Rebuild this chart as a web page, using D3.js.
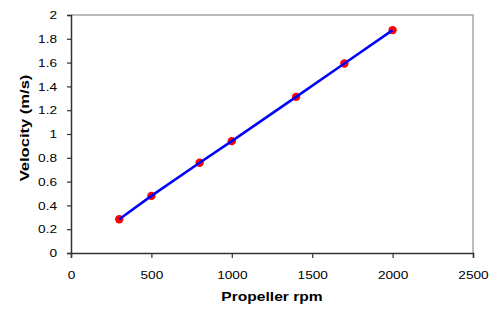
<!DOCTYPE html>
<html>
<head>
<meta charset="utf-8">
<script src="https://cdn.jsdelivr.net/npm/d3@7"></script>
<style>
  html, body { margin: 0; padding: 0; background: #fff; }
  svg { display: block; }
  text { font-family: "Liberation Sans", Arial, sans-serif; fill: #000; }
</style>
</head>
<body>
<svg id="chart" width="490" height="311"></svg>
<script>
// Data
const rpm = [300, 500, 800, 1000, 1400, 1700, 2000];
const velocity = [0.283, 0.480, 0.758, 0.940, 1.312, 1.593, 1.873];
const xTicks = [0, 500, 1000, 1500, 2000, 2500];
const yTicks = [0, 0.2, 0.4, 0.6, 0.8, 1, 1.2, 1.4, 1.6, 1.8, 2];
const xTitle = "Propeller rpm";
const yTitle = "Velocity (m/s)";

const svg = d3.select("#chart");
const mLeft = 71, mRight = 473, mTop = 15, mBottom = 253;

const x = d3.scaleLinear().domain([0, 2500]).range([mLeft, mRight]);
const y = d3.scaleLinear().domain([0, 2]).range([mBottom, mTop]);

// plot border (top and right, light gray)
svg.append("path")
  .attr("d", `M${mLeft},${mTop}H${mRight}V${mBottom}`)
  .attr("fill", "none")
  .attr("stroke", "#a6a6a6")
  .attr("stroke-width", 1.5);

// Y axis
const yAxis = svg.append("g")
  .attr("transform", `translate(${mLeft},0)`)
  .call(d3.axisLeft(y).tickValues(yTicks).tickSize(4).tickFormat(d3.format("")));
yAxis.select(".domain").attr("stroke", "#333").attr("stroke-width", 1.5);
yAxis.selectAll(".tick line").attr("stroke", "#333").attr("stroke-width", 1.2);
yAxis.selectAll(".tick text")
  .attr("x", 0).attr("dy", "0.36em")
  .attr("text-anchor", "end")
  .attr("transform", "translate(-14,0) scale(1.3,1)")
  .style("font-size", "10.5px")
  .style("font-family", "'Liberation Sans', Arial, sans-serif")
  .attr("fill", "#111");

// X axis
const xAxis = svg.append("g")
  .attr("transform", `translate(0,${mBottom})`)
  .call(d3.axisBottom(x).tickValues(xTicks).tickSize(5).tickFormat(d3.format("")));
xAxis.select(".domain").attr("stroke", "#333").attr("stroke-width", 1.5);
xAxis.selectAll(".tick line").attr("stroke", "#333").attr("stroke-width", 1.2);
xAxis.selectAll(".tick text")
  .attr("y", 0).attr("dy", 0)
  .attr("text-anchor", "middle")
  .attr("transform", "translate(0,26) scale(1.3,1)")
  .style("font-size", "10.5px")
  .style("font-family", "'Liberation Sans', Arial, sans-serif")
  .attr("fill", "#111");

// Markers
const pts = rpm.map((r, i) => [r, velocity[i]]);
svg.append("g").selectAll("circle")
  .data(pts).join("circle")
  .attr("cx", d => x(d[0]))
  .attr("cy", d => y(d[1]))
  .attr("r", 4.2)
  .attr("fill", "#ff0000");

// Line
svg.append("path")
  .datum(pts)
  .attr("fill", "none")
  .attr("stroke", "#0000ff")
  .attr("stroke-width", 2.5)
  .attr("d", d3.line().x(d => x(d[0])).y(d => y(d[1])));

// Axis titles
svg.append("text")
  .attr("transform", `translate(${(mLeft + mRight) / 2},301) scale(1.3,1)`)
  .attr("text-anchor", "middle")
  .style("font-size", "12px")
  .style("font-weight", "bold")
  .text(xTitle);

svg.append("text")
  .attr("transform", `translate(29,${(mTop + mBottom) / 2 - 6}) rotate(-90) scale(1.38,1)`)
  .attr("text-anchor", "middle")
  .style("font-size", "12px")
  .style("font-weight", "bold")
  .text(yTitle);
</script>
</body>
</html>
